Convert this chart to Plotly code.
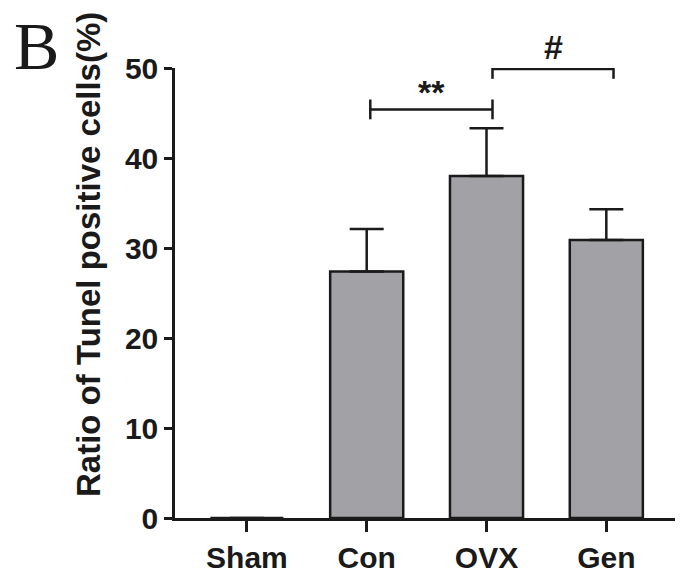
import plotly.graph_objects as go

categories = ["Sham", "Con", "OVX", "Gen"]
means = [0, 27.4, 38.0, 30.9]
errors_upper = [0, 4.7, 5.3, 3.4]
y_ticks = [0, 10, 20, 30, 40, 50]
y_max = 50

# significance brackets: (x0, x1, y, label, label_offset)
brackets = [(1.03, 2.05, 45.4, "**", 1.9), (2.05, 3.06, 49.9, "#", 2.4)]

FONT = "Liberation Sans, Arial, sans-serif"
INK = "#1a1a1a"

fig = go.Figure()
fig.add_trace(go.Bar(
    x=list(range(len(categories))), y=means, width=0.61,
    marker=dict(color="#a2a2a6", line=dict(color=INK, width=2.5)),
    error_y=dict(type="data", array=errors_upper, arrayminus=[0] * 4, symmetric=False,
                 color=INK, thickness=2.5, width=17),
))

# page body has an 8px margin: figure origin sits at screen (8, 8)
W, H = 675, 569
L, R, T, B = 167, 0, 60, 59
pw, ph = W - L - R, H - T - B

for x0, x1, y, lab, off in brackets:
    fig.add_shape(type="line", x0=x0, x1=x1, y0=y, y1=y, xref="x", yref="y",
                  line=dict(color=INK, width=2.5))
    for xx in (x0, x1):
        fig.add_shape(type="line", x0=xx, x1=xx, y0=y - 1.1, y1=y + 1.1, xref="x", yref="y",
                      line=dict(color=INK, width=2.5))
    fig.add_annotation(x=(x0 + x1) / 2, y=(y + off) / y_max, xref="x", yref="paper",
                       text=f"<b>{lab}</b>",
                       showarrow=False, xanchor="center", yanchor="middle",
                       font=dict(family=FONT, size=34, color=INK))

fig.add_annotation(x=(80 - L) / pw, y=(H - B - 247) / ph, xref="paper", yref="paper",
                   text="<b>Ratio of Tunel positive cells(%)</b>", textangle=-90,
                   xanchor="center", yanchor="middle",
                   showarrow=False, font=dict(family=FONT, size=33, color=INK))
fig.add_annotation(x=(28 - L) / pw, y=(H - B - 38) / ph, xref="paper", yref="paper",
                   text="B", showarrow=False, xanchor="center", yanchor="middle",
                   font=dict(family="Liberation Serif, Times New Roman, serif", size=68, color=INK))

fig.update_layout(
    width=W, height=H, margin=dict(l=L, r=R, t=T, b=B),
    plot_bgcolor="white", paper_bgcolor="white", showlegend=False,
    xaxis=dict(range=[-0.6, 3.64], tickvals=list(range(len(categories))),
               ticktext=[f"<b>{c}</b>" for c in categories],
               showline=True, linecolor=INK, linewidth=2.5,
               ticks="outside", ticklen=11, tickwidth=2.5, tickcolor=INK,
               showgrid=False, zeroline=False,
               tickfont=dict(family=FONT, size=30, color=INK)),
    yaxis=dict(range=[0, y_max], tickvals=y_ticks, ticktext=[f"<b>{v}</b>" for v in y_ticks],
               showline=True, linecolor=INK, linewidth=2.5,
               ticks="outside", ticklen=8, tickwidth=2.5, tickcolor=INK,
               showgrid=False, zeroline=False,
               tickfont=dict(family=FONT, size=30, color=INK)),
)

fig.write_html("out.html")
